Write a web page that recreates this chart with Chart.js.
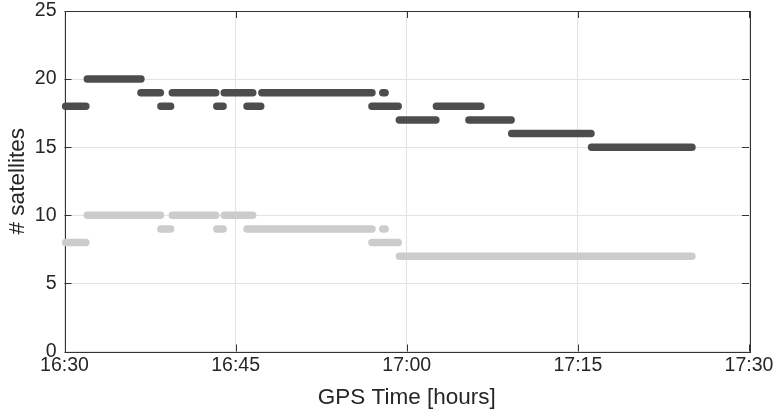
<!DOCTYPE html>
<html>
<head>
<meta charset="utf-8">
<script src="https://cdn.jsdelivr.net/npm/chart.js@4.4.1/dist/chart.umd.min.js"></script>
<style>
  html, body { margin: 0; padding: 0; background: #fff; }
</style>
</head>
<body>
<canvas id="sats" width="780" height="416"></canvas>
<script>
// Time in minutes after 16:30 GPS. Each entry is a run where the count held steady.
const allStart = [0.1, 2.0, 6.7, 8.45, 9.45, 13.35, 14.0, 16.0, 17.3, 27.9, 26.95, 29.35, 32.6, 35.45, 39.2, 46.2];
const allEnd   = [1.87, 6.7, 8.4, 9.3, 13.25, 13.9, 16.5, 17.2, 26.95, 28.1, 29.25, 32.55, 36.5, 39.15, 46.15, 55.0];
const allSats  = [18, 20, 19, 18, 19, 18, 19, 18, 19, 19, 18, 17, 18, 17, 16, 15];

const subStart = [0.1, 2.0, 8.45, 9.45, 13.35, 14.0, 16.0, 27.9, 26.95, 29.35];
const subEnd   = [1.87, 8.4, 9.3, 13.25, 13.9, 16.5, 26.95, 28.1, 29.25, 55.0];
const subSats  = [8, 10, 9, 10, 9, 10, 9, 9, 8, 7];

const xTickLabels = ['16:30', '16:45', '17:00', '17:15', '17:30'];

const FONT = "'Liberation Sans', Arial, sans-serif";
const AXIS = '#333333';
const TICK_SIZE = 19.5;
const TITLE_SIZE = 22.5;

function runs(starts, ends, vals) {
  const pts = [];
  starts.forEach((s, i) => {
    pts.push({ x: s, y: vals[i] }, { x: ends[i], y: vals[i] }, { x: ends[i], y: null });
  });
  return pts;
}

// box around the plot with inward ticks on all four sides
const frame = {
  id: 'frame',
  beforeDatasetsDraw(chart) {
    const { ctx, chartArea: a, scales } = chart;
    const tl = 7;
    ctx.save();
    ctx.strokeStyle = AXIS;
    ctx.lineWidth = 1;
    ctx.beginPath();
    scales.x.ticks.forEach(t => {
      const px = Math.round(scales.x.getPixelForValue(t.value)) + 0.5;
      ctx.moveTo(px, a.bottom); ctx.lineTo(px, a.bottom - tl);
      ctx.moveTo(px, a.top); ctx.lineTo(px, a.top + tl);
    });
    scales.y.ticks.forEach(t => {
      const py = Math.round(scales.y.getPixelForValue(t.value)) + 0.5;
      ctx.moveTo(a.left, py); ctx.lineTo(a.left + tl, py);
      ctx.moveTo(a.right, py); ctx.lineTo(a.right - tl, py);
    });
    ctx.stroke();
    ctx.strokeRect(Math.round(a.left) + 0.5, Math.round(a.top) + 0.5,
      Math.round(a.right - a.left), Math.round(a.bottom - a.top));
    ctx.restore();
  }
};

const lineStyle = {
  borderWidth: 7.5,
  borderCapStyle: 'round',
  borderJoinStyle: 'round',
  pointRadius: 0,
  tension: 0,
  spanGaps: false,
  clip: false,
};

new Chart(document.getElementById('sats'), {
  type: 'line',
  data: {
    datasets: [
      { data: runs(allStart, allEnd, allSats), borderColor: '#4d4d4d', ...lineStyle },
      { data: runs(subStart, subEnd, subSats), borderColor: '#cccccc', ...lineStyle },
    ]
  },
  options: {
    responsive: false,
    animation: false,
    layout: { padding: { top: 11, right: 31, left: 0, bottom: 0 } },
    plugins: { legend: { display: false }, tooltip: { enabled: false } },
    scales: {
      x: {
        type: 'linear',
        min: 0, max: 60,
        afterFit: s => { s.height = 64.5; s.paddingLeft = 0; s.paddingRight = 0; },
        grid: { color: '#e3e3e3', drawTicks: false },
        border: { display: false },
        ticks: {
          stepSize: 15,
          padding: 2,
          color: '#262626',
          font: { family: FONT, size: TICK_SIZE },
          maxRotation: 0,
          callback: (v, i) => xTickLabels[i],
        },
        title: {
          display: true,
          text: 'GPS Time [hours]',
          color: '#262626',
          font: { family: FONT, size: TITLE_SIZE },
          padding: { top: 0, bottom: 4.5 },
        },
      },
      y: {
        min: 0, max: 25,
        afterFit: s => { s.width = 64.5; s.paddingTop = 0; s.paddingBottom = 0; },
        grid: { color: '#e3e3e3', drawTicks: false },
        border: { display: false },
        ticks: {
          stepSize: 5,
          padding: 8,
          color: '#262626',
          font: { family: FONT, size: TICK_SIZE },
        },
        title: {
          display: true,
          text: '# satellites',
          color: '#262626',
          font: { family: FONT, size: TITLE_SIZE },
          padding: { top: 4.5, bottom: 0 },
        },
      },
    },
  },
  plugins: [frame],
});
</script>
</body>
</html>
